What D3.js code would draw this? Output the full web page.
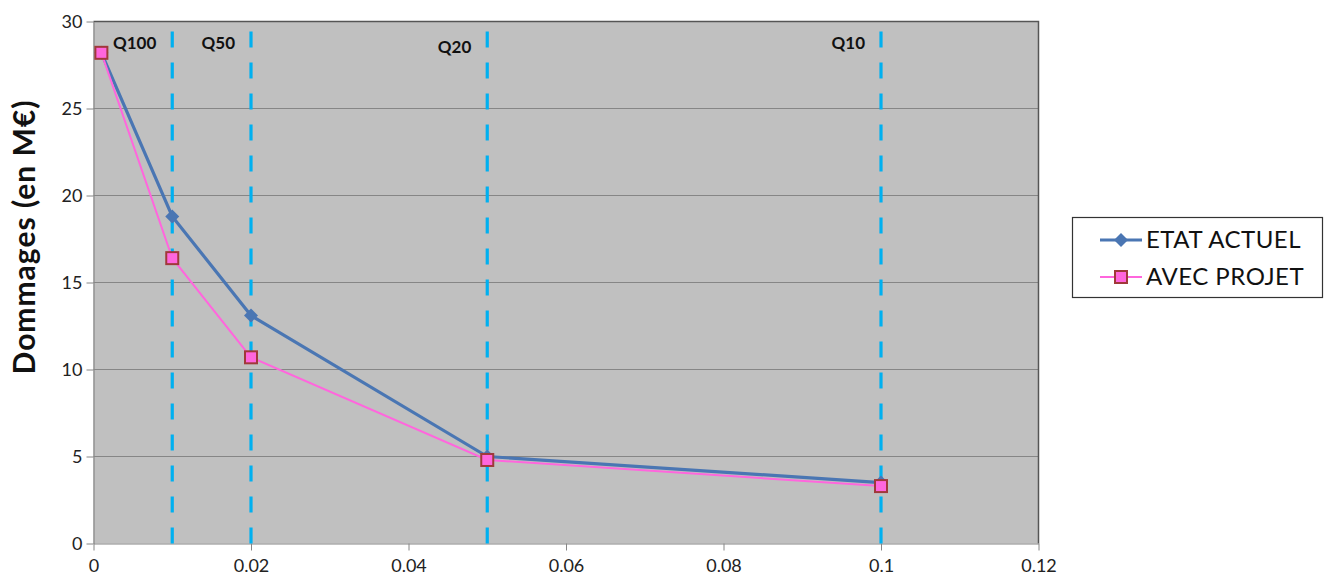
<!DOCTYPE html>
<html><head><meta charset="utf-8">
<script src="https://cdn.jsdelivr.net/npm/d3@7/dist/d3.min.js"></script>
<style>body{margin:0;background:#fff;} text{font-family:Lato,"Open Sans","DejaVu Sans",sans-serif;}</style>
</head><body>
<svg id="c" width="1325" height="577"></svg>
<script>
const xValues = [0.001, 0.01, 0.02, 0.05, 0.1];
const etatActuel = [28.2, 18.8, 13.1, 5.0, 3.5];
const avecProjet = [28.2, 16.4, 10.7, 4.8, 3.3];
const seriesNames = ["ETAT ACTUEL", "AVEC PROJET"];
const returnPeriods = [0.01, 0.02, 0.05, 0.1];
const returnLabels = ["Q100", "Q50", "Q20", "Q10"];
const xTicks = [0, 0.02, 0.04, 0.06, 0.08, 0.1, 0.12];
const yTicks = [0, 5, 10, 15, 20, 25, 30];

const svg = d3.select("#c");
const L = 93.5, R = 1038.5, T = 21.5, B = 543.5;
const x = d3.scaleLinear().domain([0, 0.12]).range([L, R]);
const y = d3.scaleLinear().domain([0, 30]).range([B, T]);

svg.append("rect").attr("x", L).attr("y", T).attr("width", R - L).attr("height", B - T).attr("fill", "#c0c0c0");

// gridlines
svg.append("g").selectAll("line").data(yTicks.filter(d => d > 0 && d < 30)).join("line")
  .attr("x1", L).attr("x2", R).attr("y1", d => y(d)).attr("y2", d => y(d))
  .attr("stroke", "#868686").attr("stroke-width", 1.2);

// border top/right
svg.append("path").attr("d", `M${L},${T}H${R}V${B}`).attr("fill", "none").attr("stroke", "#555").attr("stroke-width", 1.5);

// axes
const xAxis = d3.axisBottom(x).tickValues(xTicks).tickFormat(d => d3.format("")(+d.toFixed(2))).tickSize(7).tickSizeOuter(0);
const gx = svg.append("g").attr("transform", `translate(0,${B})`).call(xAxis);
gx.select(".domain").attr("stroke", "#868686").attr("stroke-width", 1.2);
gx.selectAll(".tick line").attr("stroke", "#868686");
gx.selectAll("text").attr("font-size", 18).attr("fill", "#222").attr("dy", "1.0em");

const yAxis = d3.axisLeft(y).tickValues(yTicks).tickSize(7).tickSizeOuter(0);
const gy = svg.append("g").attr("transform", `translate(${L},0)`).call(yAxis);
gy.select(".domain").attr("stroke", "#868686").attr("stroke-width", 1.2);
gy.selectAll(".tick line").attr("stroke", "#868686");
gy.selectAll("text").attr("font-size", 18).attr("fill", "#222").attr("x", -11);

// y label
svg.append("text").attr("transform", `translate(35,237) rotate(-90)`)
  .attr("text-anchor", "middle").attr("font-size", 30).attr("font-weight", "bold").attr("fill", "#111")
  .attr("letter-spacing", 1)
  .text("Dommages (en M€)");

// dashed vertical lines
svg.append("g").selectAll("line").data(returnPeriods).join("line")
  .attr("x1", d => x(d)).attr("x2", d => x(d)).attr("y1", T + 10).attr("y2", B)
  .attr("stroke", "#00b0f0").attr("stroke-width", 3.2).attr("stroke-dasharray", "16,15");

svg.append("g").selectAll("text").data(returnPeriods).join("text")
  .attr("x", d => x(d) - 16).attr("y", (d, i) => i === 2 ? 53 : 49)
  .attr("text-anchor", "end").attr("font-size", 17).attr("font-weight", "bold").attr("fill", "#111")
  .text((d, i) => returnLabels[i]);

// lines
const line = d3.line().x(d => x(d[0])).y(d => y(d[1]));
const blueData = xValues.map((v, i) => [v, etatActuel[i]]);
const pinkData = xValues.map((v, i) => [v, avecProjet[i]]);
const blue = "#4a76b3", pink = "#ff66dd";
const diamond = "M0,-7L7,0L0,7L-7,0Z";

svg.append("path").datum(blueData).attr("d", line).attr("fill", "none").attr("stroke", blue).attr("stroke-width", 3.2);
svg.append("g").selectAll("path").data(blueData).join("path")
  .attr("d", diamond).attr("transform", d => `translate(${x(d[0])},${y(d[1])})`)
  .attr("fill", blue);

svg.append("path").datum(pinkData).attr("d", line).attr("fill", "none").attr("stroke", pink).attr("stroke-width", 2);
svg.append("g").selectAll("rect").data(pinkData).join("rect")
  .attr("x", d => x(d[0]) - 6).attr("y", d => y(d[1]) - 6).attr("width", 12).attr("height", 12)
  .attr("fill", "#ff66dd").attr("stroke", "#a0393a").attr("stroke-width", 2);

// legend
const lg = svg.append("g");
lg.append("rect").attr("x", 1072.5).attr("y", 217.5).attr("width", 250).attr("height", 80)
  .attr("fill", "#fff").attr("stroke", "#333").attr("stroke-width", 1.2);
const ly = [240, 277];
lg.append("line").attr("x1", 1100).attr("x2", 1142).attr("y1", ly[0]).attr("y2", ly[0]).attr("stroke", blue).attr("stroke-width", 3.2);
lg.append("path").attr("d", diamond).attr("transform", `translate(1121,${ly[0]})`).attr("fill", blue);
lg.append("line").attr("x1", 1100).attr("x2", 1142).attr("y1", ly[1]).attr("y2", ly[1]).attr("stroke", pink).attr("stroke-width", 2);
lg.append("rect").attr("x", 1115).attr("y", ly[1] - 6).attr("width", 12).attr("height", 12)
  .attr("fill", "#ff66dd").attr("stroke", "#a0393a").attr("stroke-width", 2);
lg.selectAll("text.l").data(seriesNames).join("text").attr("class", "l")
  .attr("x", 1146).attr("y", (d, i) => ly[i] + 8).attr("font-size", 24).attr("letter-spacing", 0.5)
  .attr("fill", "#111").text(d => d);
</script>
</body></html>
